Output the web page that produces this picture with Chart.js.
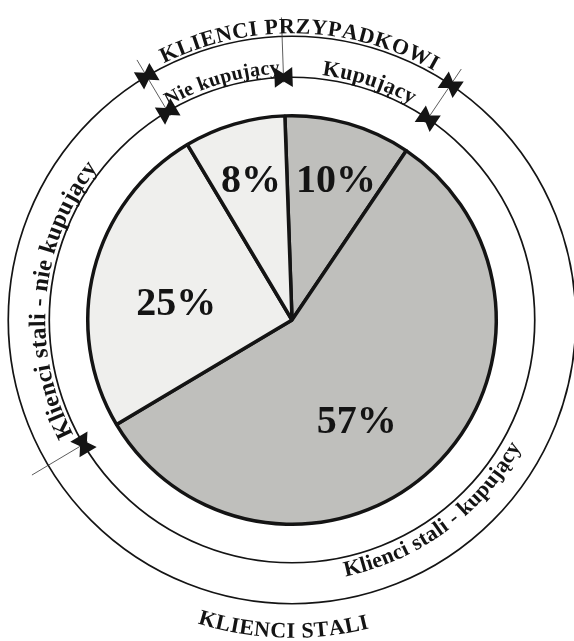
<!DOCTYPE html>
<html lang="pl">
<head>
<meta charset="utf-8">
<title>Struktura klientów</title>
<script src="https://cdn.jsdelivr.net/npm/chart.js@4/dist/chart.umd.min.js"></script>
<style>
  html, body { margin: 0; padding: 0; background: #ffffff; }
  #wrap { width: 574px; height: 641px; position: relative; }
</style>
</head>
<body>
<div id="wrap"><canvas id="chart"></canvas></div>
<script>
// Udział grup klientów (w %)
const categories = [
  'Klienci przypadkowi - kupujący',
  'Klienci stali - kupujący',
  'Klienci stali - nie kupujący',
  'Klienci przypadkowi - nie kupujący'
];
const shares = [10, 57, 25, 8];
// Opisy na wewnętrznym pierścieniu
const ringLabels = ['Kupujący', 'Klienci stali - kupujący', 'Klienci stali - nie kupujący', 'Nie kupujący'];
// Przynależność wycinków do grup na zewnętrznym pierścieniu
const groupOf = [0, 1, 1, 0];
const groupLabels = ['KLIENCI PRZYPADKOWI', 'KLIENCI STALI'];

// Wygląd
const fills = ['#bfbfbc', '#bfbfbc', '#efefed', '#efefed'];
const INK = '#141414';
const SERIF = "'Liberation Serif', 'Times New Roman', serif";
const deg = Math.PI / 180;
// przesunięcie kątowe (stopnie) i promień etykiet procentowych
const pctShift = [1.5, 11, -6, 0];
const pctRadius = [146, 121, 117, 145];
// przesunięcie kątowe i rozmiar opisów pierścienia wewnętrznego
const ringShift = [2, 7, -9, 0];
const ringFont = [22, 22, 24, 20];

function arcText(ctx, text, cx, cy, r, center, bottom, spacing) {
  const chars = Array.from(text);
  const widths = chars.map(ch => ctx.measureText(ch).width);
  const total = widths.reduce((a, b) => a + b, 0) + spacing * (chars.length - 1);
  const dir = bottom ? -1 : 1;
  let a = center - dir * total / (2 * r);
  ctx.textAlign = 'center';
  ctx.textBaseline = 'alphabetic';
  chars.forEach((ch, i) => {
    const mid = a + dir * (widths[i] / 2) / r;
    ctx.save();
    ctx.translate(cx + r * Math.cos(mid), cy + r * Math.sin(mid));
    ctx.rotate(mid + dir * Math.PI / 2);
    ctx.fillText(ch, 0, 0);
    ctx.restore();
    a += dir * (widths[i] + spacing) / r;
  });
}

function bowtie(ctx, cx, cy, r, ang) {
  ctx.save();
  ctx.translate(cx + r * Math.cos(ang), cy + r * Math.sin(ang));
  ctx.rotate(ang + Math.PI / 2);
  ctx.beginPath();
  ctx.moveTo(-9, -10);
  ctx.lineTo(0, -4);
  ctx.lineTo(9, -10);
  ctx.lineTo(9, 10);
  ctx.lineTo(0, 4);
  ctx.lineTo(-9, 10);
  ctx.closePath();
  ctx.fillStyle = INK;
  ctx.fill();
  ctx.restore();
}

const ringsPlugin = {
  id: 'ringsPlugin',
  afterDatasetsDraw(chart) {
    const ctx = chart.ctx;
    const arcs = chart.getDatasetMeta(0).data;
    if (!arcs.length) return;
    const cx = arcs[0].x, cy = arcs[0].y;
    const R = arcs[0].outerRadius;
    const rIn = R + 38.5, rOut = R + 79.5;

    ctx.save();
    // etykiety procentowe
    ctx.fillStyle = INK;
    ctx.font = 'bold 40px ' + SERIF;
    ctx.textAlign = 'center';
    ctx.textBaseline = 'middle';
    arcs.forEach((arc, i) => {
      const mid = (arc.startAngle + arc.endAngle) / 2 + pctShift[i] * deg;
      ctx.fillText(shares[i] + '%', cx + pctRadius[i] * Math.cos(mid), cy + pctRadius[i] * Math.sin(mid) + 1);
    });

    // pierścienie
    ctx.strokeStyle = INK;
    ctx.lineWidth = 1.7;
    [rIn, rOut].forEach(r => {
      ctx.beginPath();
      ctx.arc(cx, cy, r, 0, Math.PI * 2);
      ctx.stroke();
    });

    // linie podziału i znaczniki
    arcs.forEach((arc, i) => {
      const a = arc.startAngle;
      const prev = (i + arcs.length - 1) % arcs.length;
      ctx.beginPath();
      ctx.lineWidth = 0.8;
      ctx.strokeStyle = '#333333';
      ctx.moveTo(cx + (rIn - 5) * Math.cos(a), cy + (rIn - 5) * Math.sin(a));
      ctx.lineTo(cx + (rOut + 19) * Math.cos(a), cy + (rOut + 19) * Math.sin(a));
      ctx.stroke();
      bowtie(ctx, cx, cy, rIn, a);
      if (groupOf[i] !== groupOf[prev]) bowtie(ctx, cx, cy, rOut, a);
    });

    // opisy wewnętrznego pierścienia
    ctx.fillStyle = INK;
    arcs.forEach((arc, i) => {
      ctx.font = 'bold ' + ringFont[i] + 'px ' + SERIF;
      const mid = (arc.startAngle + arc.endAngle) / 2 + ringShift[i] * deg;
      const bottom = Math.sin(mid) > 0.3;
      arcText(ctx, ringLabels[i], cx, cy, bottom ? rIn + 19 : rIn + 4, mid, bottom, 0.3);
    });

    // opisy grup na zewnętrznym pierścieniu
    ctx.font = 'bold 22px ' + SERIF;
    groupLabels.forEach((label, g) => {
      // zakres kątowy grupy (wycinki leżą obok siebie, także przez punkt startowy)
      const members = groupOf.map((v, i) => v === g ? i : -1).filter(i => i >= 0);
      let first = members[0], last = members[members.length - 1];
      if (members.includes(0) && members.includes(arcs.length - 1) && members.length < arcs.length) {
        let k = arcs.length - 1;
        while (members.includes(k - 1)) k--;
        first = k;
        let m = 0;
        while (members.includes(m + 1)) m++;
        last = m;
      }
      const start = arcs[first].startAngle;
      let end = arcs[last].endAngle;
      if (end < start) end += Math.PI * 2;
      const mid = (start + end) / 2;
      const bottom = Math.sin(mid) > 0.3;
      arcText(ctx, label, cx, cy, bottom ? rOut + 34 : rOut + 3, mid, bottom, 0.6);
    });
    ctx.restore();
  }
};

new Chart(document.getElementById('chart'), {
  type: 'pie',
  data: {
    labels: categories,
    datasets: [{
      data: shares,
      backgroundColor: fills,
      borderColor: INK,
      borderWidth: 3.5
    }]
  },
  options: {
    responsive: true,
    maintainAspectRatio: false,
    animation: false,
    events: [],
    rotation: -2,
    layout: { padding: { left: 86, right: 76, top: 114, bottom: 115 } },
    plugins: {
      legend: { display: false },
      tooltip: { enabled: false },
      title: { display: false }
    }
  },
  plugins: [ringsPlugin]
});
</script>
</body>
</html>
